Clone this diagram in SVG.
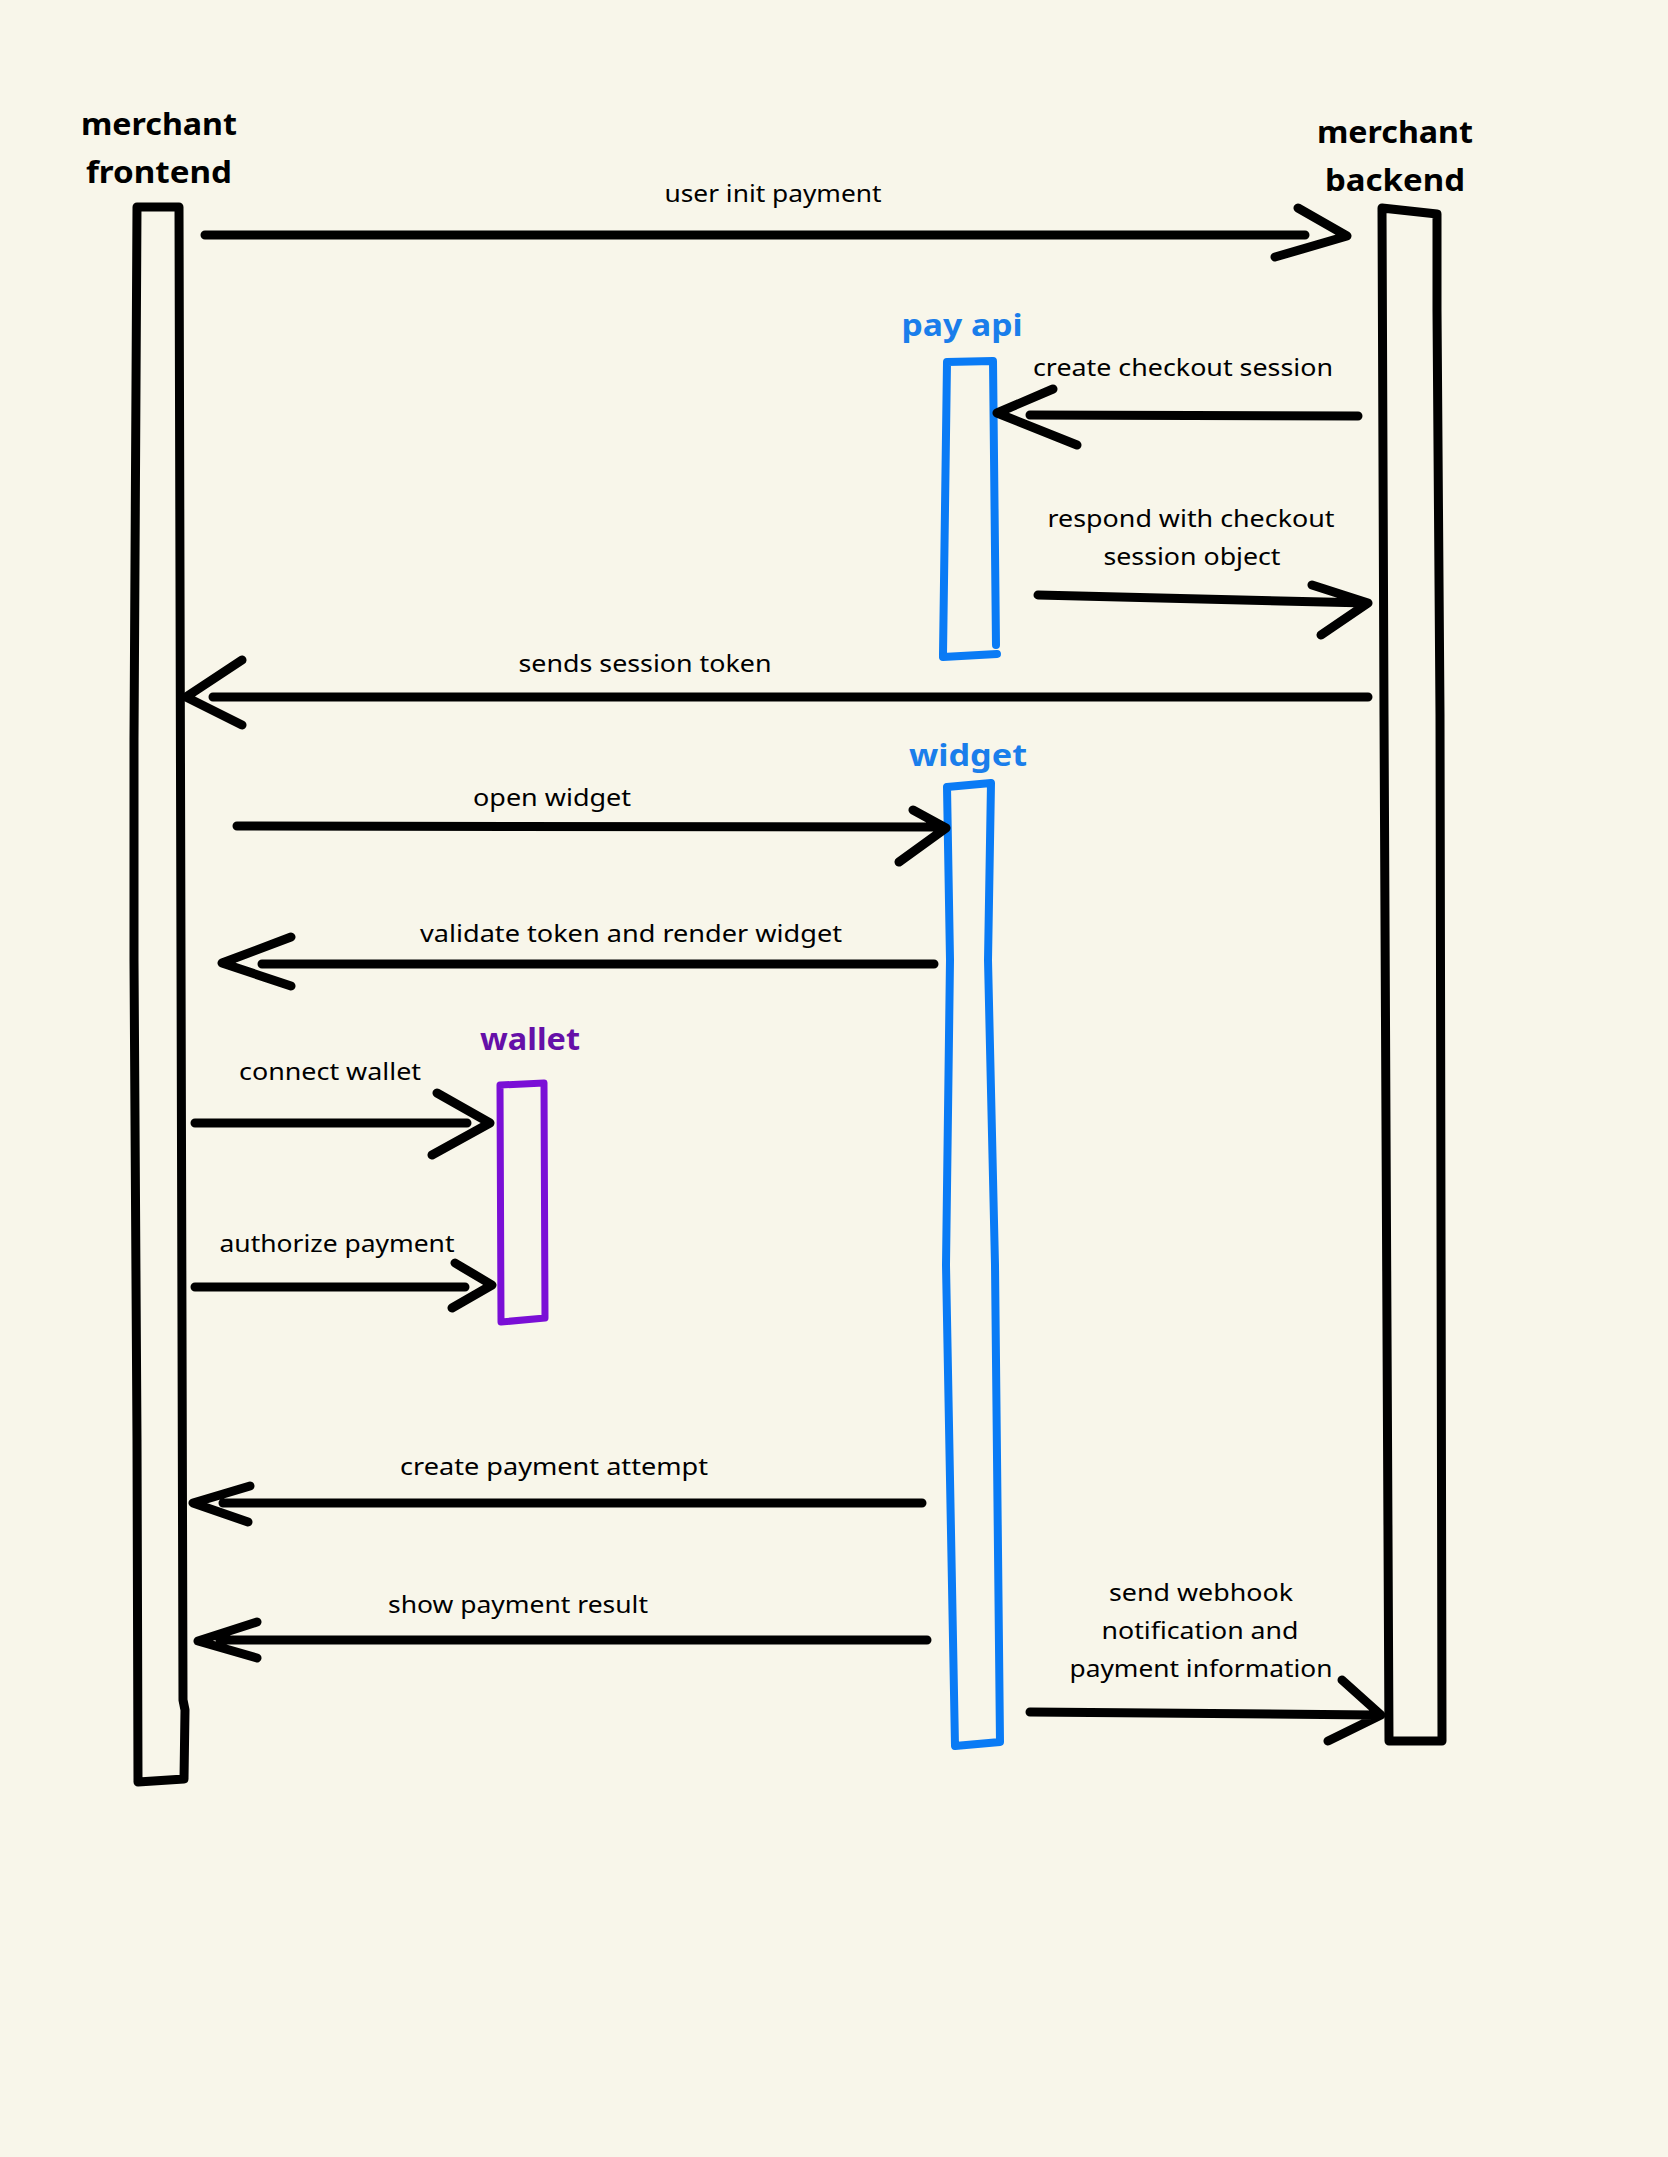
<svg xmlns="http://www.w3.org/2000/svg" width="1668" height="2157" viewBox="0 0 1668 2157">
<style>
.bg{fill:#F8F6EA}
.life{fill:none;stroke:#000;stroke-width:9;stroke-linecap:round;stroke-linejoin:round}
.blue{fill:none;stroke:#0A7BF5;stroke-width:8;stroke-linecap:round;stroke-linejoin:round}
.purple{fill:none;stroke:#7A0FD6;stroke-width:7;stroke-linecap:round;stroke-linejoin:round}
.arr{fill:none;stroke:#000;stroke-width:9;stroke-linecap:round;stroke-linejoin:round}
.hdr{font-family:"Noto Sans","Open Sans",sans-serif;font-weight:700;font-size:31px;fill:#000;text-anchor:middle}
.hb{fill:#1A7EEB}
.hp{fill:#650FA8}
.lbl{font-family:"Noto Sans","Open Sans",sans-serif;font-size:24px;fill:#000;text-anchor:middle}
</style>
<rect class="bg" x="0" y="0" width="1668" height="2157"/>

<g id="merchant-frontend">
  <text class="hdr" x="159" y="135" textLength="156" lengthAdjust="spacingAndGlyphs">merchant</text>
  <text class="hdr" x="159" y="183" textLength="146" lengthAdjust="spacingAndGlyphs">frontend</text>
  <path class="life" d="M137,207 L134,740 L134,960 L137,1440 L138,1782 L184,1779 L185,1710 L183,1700 L181,960 L179,207 Z"/>
</g>

<g id="merchant-backend">
  <text class="hdr" x="1395" y="143" textLength="156" lengthAdjust="spacingAndGlyphs">merchant</text>
  <text class="hdr" x="1395" y="191" textLength="140" lengthAdjust="spacingAndGlyphs">backend</text>
  <path class="life" d="M1382,208 L1437,214 L1437,310 L1440,715 L1442,1741 L1389,1741 L1384,715 Z"/>
</g>

<g id="pay-api">
  <text class="hdr hb" x="962" y="336" textLength="121" lengthAdjust="spacingAndGlyphs">pay api</text>
  <path class="blue" d="M943,655 L947,362 L993,361 L996,645"/>
  <path class="blue" d="M943,657 L997,654"/>
</g>

<g id="widget">
  <text class="hdr hb" x="968" y="766" textLength="118" lengthAdjust="spacingAndGlyphs">widget</text>
  <path class="blue" d="M955,1746 L946,1265 L950,960 L947,787 L991,783 L988,960 L995,1265 L1000,1742 Z"/>
</g>

<g id="wallet">
  <text class="hdr hp" x="530" y="1050" textLength="100" lengthAdjust="spacingAndGlyphs">wallet</text>
  <path class="purple" d="M500,1085 L544,1083 L545,1318 L501,1322 Z"/>
</g>

<g id="connectors">
  <path class="arr" d="M205,235 L1305,235 M1298,208 L1347,236 L1275,257"/>
  <text class="lbl" x="773" y="202" textLength="217" lengthAdjust="spacingAndGlyphs">user init payment</text>

  <path class="arr" d="M1358,416 L1030,415 M1053,389 L997,413 L1077,445"/>
  <text class="lbl" x="1183" y="376" textLength="300" lengthAdjust="spacingAndGlyphs">create checkout session</text>

  <path class="arr" d="M1038,595 L1367,603 M1312,585 L1368,603 L1321,635"/>
  <text class="lbl" x="1191" y="527" textLength="287" lengthAdjust="spacingAndGlyphs">respond with checkout</text>
  <text class="lbl" x="1192" y="565" textLength="177" lengthAdjust="spacingAndGlyphs">session object</text>

  <path class="arr" d="M1368,697 L213,697 M242,660 L186,697 L242,725"/>
  <text class="lbl" x="645" y="672" textLength="253" lengthAdjust="spacingAndGlyphs">sends session token</text>

  <path class="arr" d="M237,826 L940,827 M913,810 L946,828 L899,862"/>
  <text class="lbl" x="552" y="806" textLength="158" lengthAdjust="spacingAndGlyphs">open widget</text>

  <path class="arr" d="M934,964 L262,964 M291,937 L222,963 L291,986"/>
  <text class="lbl" x="631" y="942" textLength="422" lengthAdjust="spacingAndGlyphs">validate token and render widget</text>

  <path class="arr" d="M195,1123 L467,1123 M437,1093 L490,1123 L432,1155"/>
  <text class="lbl" x="330" y="1080" textLength="182" lengthAdjust="spacingAndGlyphs">connect wallet</text>

  <path class="arr" d="M195,1287 L465,1287 M455,1263 L492,1285 L452,1308"/>
  <text class="lbl" x="337" y="1252" textLength="235" lengthAdjust="spacingAndGlyphs">authorize payment</text>

  <path class="arr" d="M922,1503 L223,1503 M250,1486 L193,1503 L248,1522"/>
  <text class="lbl" x="554" y="1475" textLength="308" lengthAdjust="spacingAndGlyphs">create payment attempt</text>

  <path class="arr" d="M927,1640 L220,1640 M257,1622 L198,1641 L257,1658"/>
  <text class="lbl" x="518" y="1613" textLength="260" lengthAdjust="spacingAndGlyphs">show payment result</text>

  <path class="arr" d="M1030,1712 L1375,1715 M1342,1680 L1381,1715 L1328,1741"/>
  <text class="lbl" x="1201" y="1601" textLength="184" lengthAdjust="spacingAndGlyphs">send webhook</text>
  <text class="lbl" x="1200" y="1639" textLength="197" lengthAdjust="spacingAndGlyphs">notification and</text>
  <text class="lbl" x="1201" y="1677" textLength="263" lengthAdjust="spacingAndGlyphs">payment information</text>
</g>
</svg>
